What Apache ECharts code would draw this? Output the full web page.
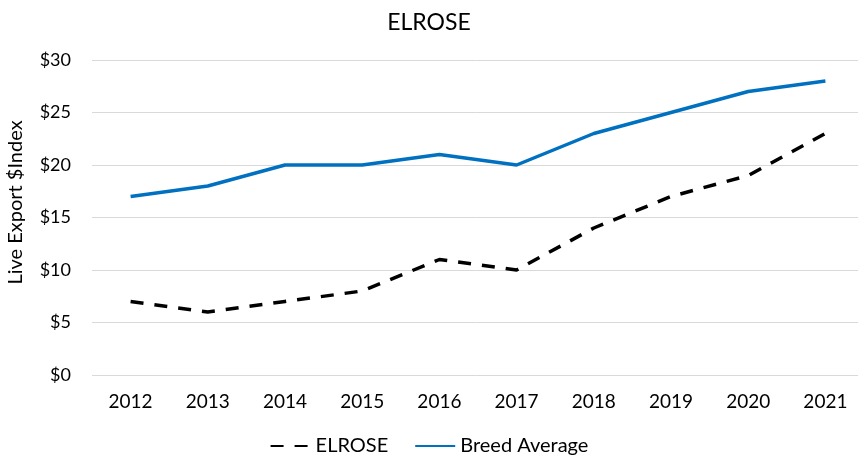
<!DOCTYPE html>
<html>
<head>
<meta charset="utf-8">
<script src="https://cdn.jsdelivr.net/npm/echarts@6/dist/echarts.min.js"></script>
<style>
  html, body { margin: 0; padding: 0; background: #fff; }
  #chart { width: 858px; height: 462px; }
</style>
</head>
<body>
<div id="chart"></div>
<script>
// data
const years = ['2012', '2013', '2014', '2015', '2016', '2017', '2018', '2019', '2020', '2021']
const elrose = [7, 6, 7, 8, 11, 10, 14, 17, 19, 23]
const breedAverage = [17, 18, 20, 20, 21, 20, 23, 25, 27, 28]

const font = 'Lato, "Open Sans", sans-serif'
const chart = echarts.init(document.getElementById('chart'))
chart.setOption({
  backgroundColor: '#fff',
  animation: false,
  textStyle: { fontFamily: font },
  title: {
    text: 'ELROSE',
    left: 'center',
    top: 6,
    textStyle: { fontFamily: font, fontSize: 23, fontWeight: 'normal', color: '#000' }
  },
  legend: {
    bottom: 1,
    left: 'center',
    itemWidth: 40,
    itemHeight: 3,
    itemGap: 26,
    itemStyle: { opacity: 0 },
    textStyle: { fontFamily: font, fontSize: 20, color: '#000' },
    data: ['ELROSE', 'Breed Average']
  },
  // the plot area runs past the right edge of the picture
  grid: { left: 92, top: 60, width: 772, height: 315, outerBoundsMode: 'none', containLabel: false },
  xAxis: {
    type: 'category',
    data: years,
    boundaryGap: true,
    axisLine: { show: false },
    axisTick: { show: false },
    axisLabel: { fontFamily: font, fontSize: 19, color: '#000', margin: 17 }
  },
  yAxis: {
    type: 'value',
    min: 0,
    max: 30,
    interval: 5,
    name: 'Live Export $Index',
    nameLocation: 'middle',
    nameGap: 66,
    // the title sits a bit above the middle of the plot
    nameTextStyle: { fontFamily: font, fontSize: 20, color: '#000', padding: [0, 0, 0, 30] },
    axisLabel: { fontFamily: font, fontSize: 18, color: '#000', margin: 21, formatter: v => '$' + v },
    splitLine: { lineStyle: { color: '#d9d9d9', width: 1 } }
  },
  series: [
    {
      name: 'ELROSE',
      type: 'line',
      data: elrose,
      symbol: 'none',
      lineStyle: { color: '#000', width: 3.5, type: [13, 11] },
      itemStyle: { color: '#000' }
    },
    {
      name: 'Breed Average',
      type: 'line',
      data: breedAverage,
      symbol: 'none',
      lineStyle: { color: '#0070c0', width: 3.5 },
      itemStyle: { color: '#0070c0' }
    }
  ]
})
</script>
</body>
</html>
